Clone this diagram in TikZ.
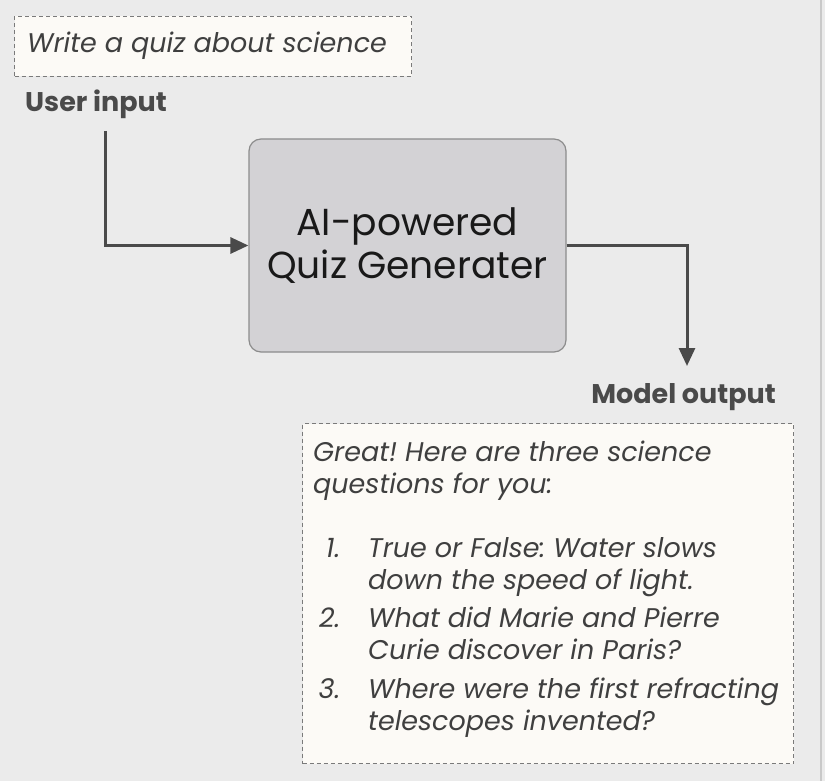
\documentclass[tikz,border=0pt]{standalone}
\usepackage{fontspec}
\setmainfont{Poppins}
\usetikzlibrary{arrows.meta}
\frenchspacing
\definecolor{bgc}{HTML}{EBEBEB}
\definecolor{edgec}{HTML}{C9C9C9}
\definecolor{notefill}{HTML}{FCFAF6}
\definecolor{notedraw}{HTML}{7A7A7A}
\definecolor{boxfill}{HTML}{D3D2D5}
\definecolor{boxdraw}{HTML}{8C8C8C}
\definecolor{arrowc}{HTML}{4A4A4A}
\definecolor{textc}{HTML}{3F3F3F}
\definecolor{labelc}{HTML}{4A4A4A}
\tikzset{
  note/.style={draw=notedraw, fill=notefill, dashed, dash pattern=on 4pt off 3pt, line width=1pt, anchor=north west, inner sep=0pt},
  lbl/.style={font=\bfseries\fontsize{27}{32}\selectfont, text=labelc, inner sep=0pt},
  conn/.style={draw=arrowc, line width=3pt, -{Triangle[length=18pt,width=16pt]}},
  genbox/.style={draw=boxdraw, fill=boxfill, line width=1.2pt, rounded corners=12pt, minimum width=317pt, minimum height=213pt, align=center, inner sep=0pt, font=\fontsize{37.6}{45}\selectfont, text=black!90}
}
\begin{document}
\begin{tikzpicture}[x=1pt,y=-1pt]
\fill[bgc] (0,0) rectangle (825,781);
\useasboundingbox (0,0) rectangle (825,781);
\draw[edgec, line width=2pt] (821,0) -- (821,781);
% input note
\node[note, minimum width=397pt, minimum height=60pt] (inbox) at (14,16) {};
\node[anchor=base west, inner sep=0pt, text=textc, font=\itshape\fontsize{27}{32}\selectfont] (intext) at (27,53) {Write a quiz about science};
\node[lbl, anchor=base west] (uin) at (25,112) {User input};
% generator
\node[genbox] (gen) at (407.5,245.5) {\raisebox{-2.5pt}{AI-powered}\\\raisebox{-1pt}{Quiz Generater}};
% output label
\node[lbl, anchor=base east] (mout) at (776,403) {Model output};
% output note
\node[note, minimum width=491pt, minimum height=340pt] (outbox) at (302,423) {};
\node[anchor=north west, inner sep=0pt, text=textc, align=left, font=\itshape\fontsize{27}{32}\selectfont] (outtext) at (313,440.6) {%
Great! Here are three science\\
questions for you:\\[32pt]
\makebox[27pt][r]{1.}\hspace{28pt}True or False: Water slows\\
\hspace{55pt}down the speed of light.\\[6.5pt]
\makebox[27pt][r]{2.}\hspace{28pt}What did Marie and Pierre\\
\hspace{55pt}Curie discover in Paris?\\[6.5pt]
\makebox[27pt][r]{3.}\hspace{28pt}Where were the first refracting\\
\hspace{55pt}telescopes invented?};
% connectors
\coordinate (in0) at (105,131);
\coordinate (out0) at (687,366);
\draw[conn] (in0) |- (gen.west);
\draw[conn] (gen.east) -| (out0);
\end{tikzpicture}
\end{document}
